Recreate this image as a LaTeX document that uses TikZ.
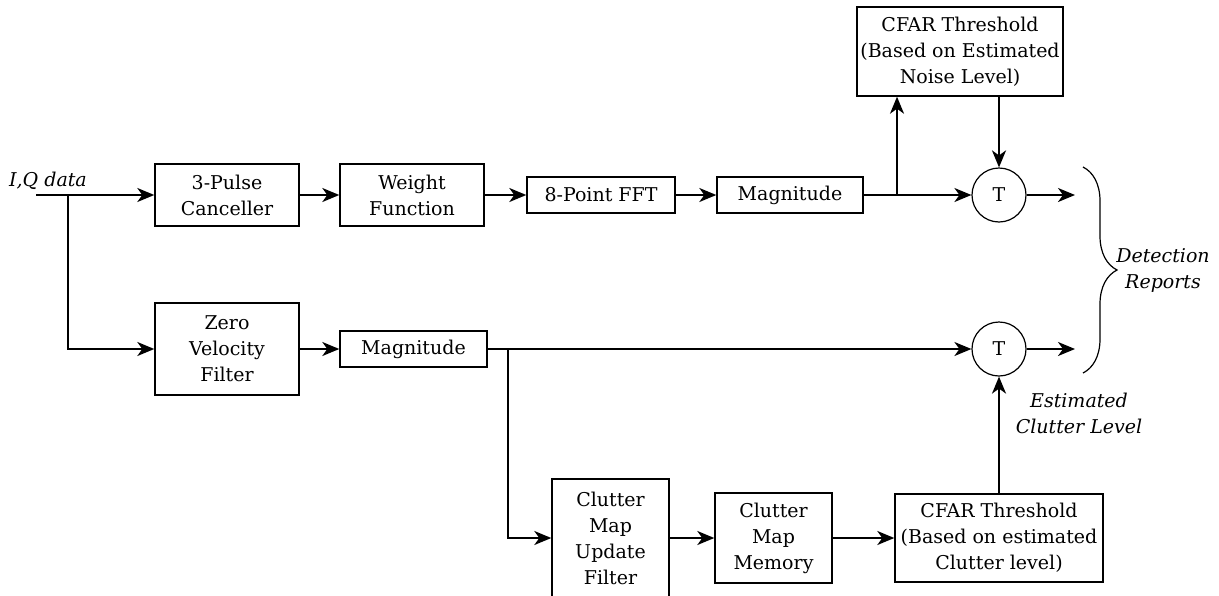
\documentclass[tikz,border=0pt]{standalone}
\usepackage{fontspec}
\setmainfont{DejaVu Serif}
\usetikzlibrary{arrows.meta,decorations.pathreplacing,calc}
\begin{document}
\begin{tikzpicture}[x=0.5pt,y=-0.5pt,
  font=\fontsize{9.5}{13}\selectfont,
  blk/.style={draw,line width=0.7pt,inner sep=0pt,align=center},
  sum/.style={draw,circle,line width=0.6pt,minimum size=27pt,inner sep=0pt},
  conn/.style={line width=1pt,-{Stealth[length=8.5pt,width=7pt,inset=2.5pt]}},
  wire/.style={line width=1pt},
  lbl/.style={font=\fontsize{9.5}{13}\selectfont\itshape,align=center}]
\useasboundingbox (0,0) rectangle (1219,595);

% top row
\node[blk,minimum width=72pt,minimum height=31pt] (pc) at (227,195) {3-Pulse\\Canceller};
\node[blk,minimum width=72pt,minimum height=31pt] (wf) at (412,195) {Weight\\Function};
\node[blk,minimum width=74pt,minimum height=18pt] (fft) at (601,195) {8-Point FFT};
\node[blk,minimum width=73pt,minimum height=18pt] (mag1) at (790,195) {Magnitude};
\node[sum] (T1) at (999,195) {T};
\node[blk,minimum width=103pt,minimum height=44.5pt] (cfar1) at (960,51.5) {CFAR Threshold\\(Based on Estimated\\Noise Level)};

% bottom row
\node[blk,minimum width=72pt,minimum height=46pt] (zvf) at (227,349) {Zero\\Velocity\\Filter};
\node[blk,minimum width=73.5pt,minimum height=18pt] (mag2) at (413.5,349) {Magnitude};
\node[sum] (T2) at (999,349) {T};
\node[blk,minimum width=58.5pt,minimum height=59pt] (cmuf) at (610.5,538) {Clutter\\Map\\Update\\Filter};
\node[blk,minimum width=58.5pt,minimum height=45pt] (cmm) at (773.5,538) {Clutter\\Map\\Memory};
\node[blk,minimum width=104pt,minimum height=44pt] (cfar2) at (999,538) {CFAR Threshold\\(Based on estimated\\Clutter level)};

% labels
\node[lbl] (iq) at (48,181) {I,Q data};
\node[lbl] (det) at (1163,270) {Detection\\Reports};
\node[lbl] (est) at (1079,413) {Estimated\\Clutter Level};

% coordinates
\coordinate (in) at (36,195);
\coordinate (b1) at (68,195);
\coordinate (s1) at (897,195);
\coordinate (o1) at (1075,195);
\coordinate (s2) at (508,349);
\coordinate (o2) at (1075,349);
\coordinate (bt) at (1083,167);
\coordinate (bb) at (1083,373);

% connectors
\draw[wire] (in) -- (b1);
\draw[conn] (b1) -- (pc.west);
\draw[conn] (b1) |- (zvf.west);
\draw[conn] (pc) -- (wf);
\draw[conn] (wf) -- (fft);
\draw[conn] (fft) -- (mag1);
\draw[wire] (mag1.east) -- (s1);
\draw[conn] (s1) -- (T1.west);
\draw[conn] (s1) -- (s1 |- cfar1.south);
\draw[conn] (T1 |- cfar1.south) -- (T1.north);
\draw[conn] (T1) -- (o1);

\draw[conn] (zvf) -- (mag2);
\draw[wire] (mag2.east) -- (s2);
\draw[conn] (s2) -- (T2.west);
\draw[conn] (s2) |- (cmuf.west);
\draw[conn] (cmuf) -- (cmm);
\draw[conn] (cmm) -- (cfar2);
\draw[conn] (cfar2.north) -- (T2.south);
\draw[conn] (T2) -- (o2);

\draw[line width=0.6pt,decorate,decoration={brace,amplitude=17pt}] (bt) -- (bb);
\end{tikzpicture}
\end{document}
